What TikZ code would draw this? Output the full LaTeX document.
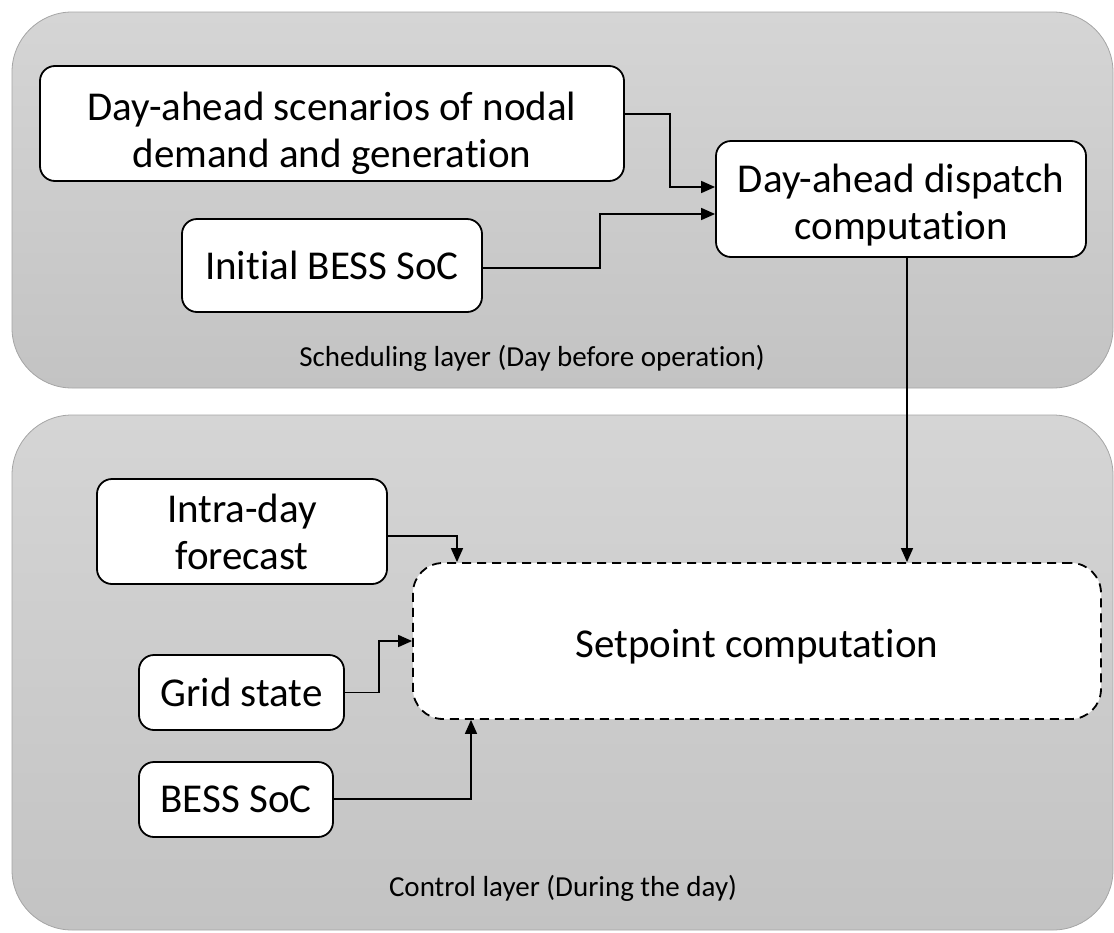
\documentclass[tikz,border=0pt]{standalone}
\usepackage{fontspec}
\setmainfont[Ligatures={NoCommon}]{Carlito}
\usetikzlibrary{arrows.meta,calc}
\definecolor{paneltop}{RGB}{213,213,213}
\definecolor{panelbot}{RGB}{195,195,195}
\definecolor{panelline}{RGB}{165,165,165}
\newcommand{\lowtext}[2]{\raisebox{-#1}[\height][\depth]{\begin{tabular}{@{}c@{}}#2\end{tabular}}}
\tikzset{
  panel/.style={draw=panelline, line width=0.8pt, rounded corners=60pt, top color=paneltop, bottom color=panelbot},
  box/.style={draw=black, line width=1.8pt, fill=white, rounded corners=15pt, align=center, inner sep=0pt,
    font=\fontsize{41}{47}\selectfont},
  dbox/.style={box, dash pattern=on 9pt off 6pt, rounded corners=30pt},
  arr/.style={line width=1.6pt, -{Triangle[length=14pt,width=12pt]}},
  lbl/.style={font=\fontsize{29}{34}\selectfont, inner sep=0pt}
}
\begin{document}
\begin{tikzpicture}[x=1pt,y=-1pt]
\useasboundingbox (0,0) rectangle (1114,932);
% panels
\path[panel] (12,12) rectangle (1113,388);
\path[panel] (12,415) rectangle (1113,930);
\node[lbl] (schedlbl) at (532,358) {Scheduling layer (Day before operation)};
\node[lbl] (ctrllbl) at (563,888) {Control layer (During the day)};
% nodes
\node[box, minimum width=584pt, minimum height=115pt] (scen) at (332,123.5) {\lowtext{11pt}{Day-ahead scenarios of nodal\\demand and generation}};
\node[box, minimum width=370pt, minimum height=116pt] (disp) at (901,199) {\lowtext{8pt}{Day-ahead dispatch\\computation}};
\node[box, minimum width=300pt, minimum height=93pt] (init) at (332,265.5) {Initial BESS SoC};
\node[box, minimum width=290pt, minimum height=105pt] (intra) at (242,531.5) {Intra-day\\forecast};
\node[dbox, minimum width=688pt, minimum height=156pt] (setp) at (757,641) {\lowtext{7pt}{Setpoint computation}};
\node[box, minimum width=205pt, minimum height=75pt] (grid) at (241.5,692.5) {Grid state};
\node[box, minimum width=194pt, minimum height=75pt] (bess) at (236,799.5) {BESS SoC};
% connectors
\draw[arr] ([yshift=9.5pt]scen.east) -- ++(45,0) |- ([yshift=12pt]disp.west);
\draw[arr] ([yshift=-2.5pt]init.east) -- ++(117,0) |- ([yshift=-15pt]disp.west);
\draw[arr] ([xshift=6pt]disp.south) -- ([xshift=6pt]disp.south |- setp.north);
\draw[arr] ([yshift=-4.5pt]intra.east) -| ([xshift=-300pt]setp.north);
\draw[arr] (grid.east) -- ++(34,0) |- (setp.west);
\draw[arr] ([yshift=0.5pt]bess.east) -| ([xshift=-286pt]setp.south);
\end{tikzpicture}
\end{document}
